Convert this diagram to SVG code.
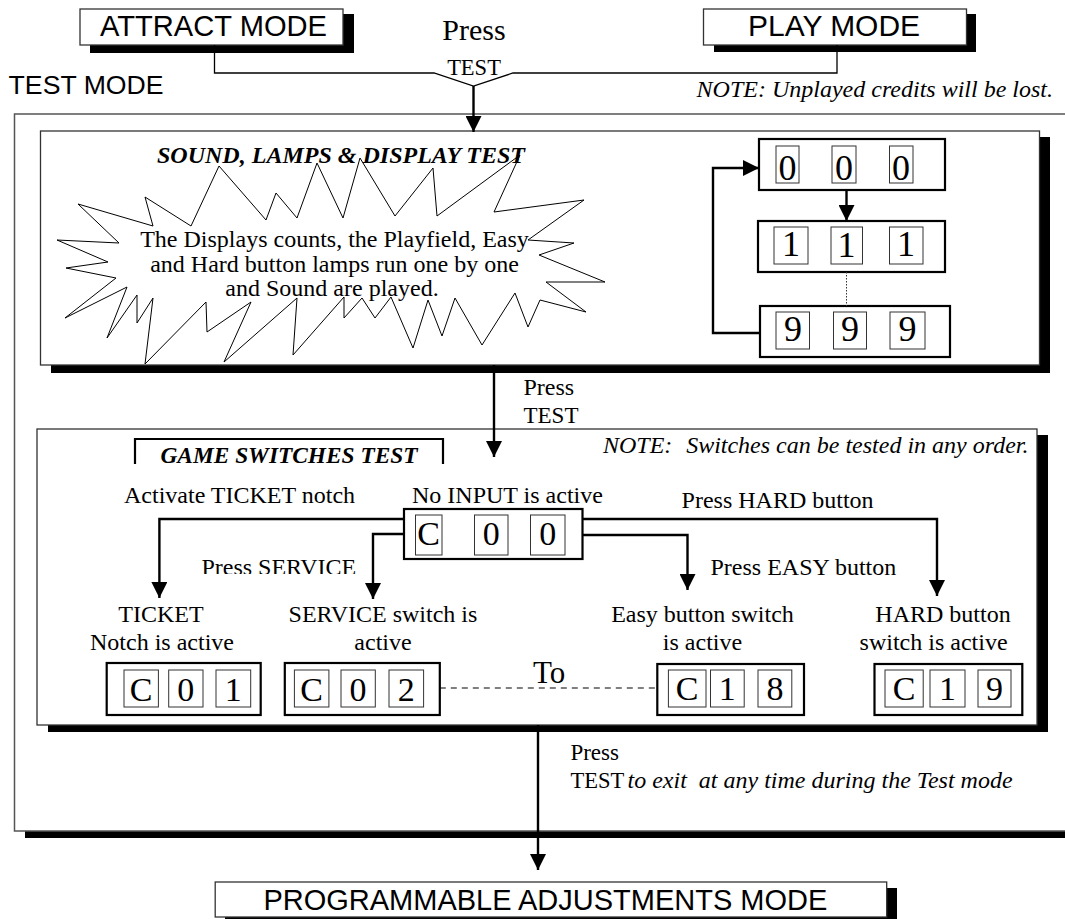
<svg xmlns="http://www.w3.org/2000/svg" width="1065" height="919" viewBox="0 0 1065 919">
<style>
.box{fill:#fff;stroke:#333;stroke-width:1.3}
.sh{fill:#000}
.cnt{fill:#fff;stroke:#000;stroke-width:2.2}
.dg{fill:#fff;stroke:#333;stroke-width:1}
.sans{font-family:"Liberation Sans",Arial,sans-serif}
.serif{font-family:"Liberation Serif","Times New Roman",serif}
.mode{font-size:29px}
.t{font-size:24px}
.it{font-style:italic}
.bi{font-weight:bold;font-style:italic}
.dig{font-family:"Liberation Serif","Times New Roman",serif;font-size:36px;text-anchor:middle}
.cd{font-family:"Liberation Serif","Times New Roman",serif;font-size:34px;text-anchor:middle}
.mid{text-anchor:middle}
.conn{fill:none;stroke:#000;stroke-width:2.4}
.thin{fill:none;stroke:#000;stroke-width:1.3}
</style>
<defs>
<marker id="ah" markerUnits="userSpaceOnUse" markerWidth="16" markerHeight="16" refX="16" refY="8" orient="auto" viewBox="0 0 16 16">
<path d="M0,0 L16,8 L0,16 Z" fill="#000"/>
</marker>
<clipPath id="svcclip"><rect x="190" y="540" width="180" height="34"/></clipPath>
</defs>
<rect width="1065" height="919" fill="#fff"/>

<g id="attract-mode">
<rect class="sh" x="90" y="14" width="264" height="39"/>
<rect class="box" x="80" y="9" width="263" height="36"/>
<text class="sans mode" x="100" y="36" textLength="227" lengthAdjust="spacingAndGlyphs">ATTRACT MODE</text>
</g>

<g id="play-mode">
<rect class="sh" x="714" y="14" width="262" height="38"/>
<rect class="box" x="703.5" y="9" width="263" height="36"/>
<text class="sans mode" x="748" y="36" textLength="172" lengthAdjust="spacingAndGlyphs">PLAY MODE</text>
</g>

<g id="labels-top">
<text class="serif" x="474" y="40" font-size="30" text-anchor="middle">Press</text>
<text class="serif" x="474" y="74.5" font-size="22.5" text-anchor="middle">TEST</text>
<text class="sans" x="8.6" y="94" font-size="25.5" textLength="155" lengthAdjust="spacingAndGlyphs">TEST MODE</text>
<text class="serif t it" x="1053" y="97" text-anchor="end">NOTE: Unplayed credits will be lost.</text>
</g>

<g id="test-mode-frame">
<rect class="sh" x="25" y="120" width="1060" height="718"/>
<rect fill="#fff" stroke="#555" stroke-width="1.5" x="14.5" y="114" width="1060" height="717"/>
</g>

<g id="sound-test">
<rect class="sh" x="51" y="137" width="999" height="236"/>
<rect class="box" x="40.5" y="131" width="999" height="234"/>
<text class="serif t bi" x="157" y="163" textLength="368" lengthAdjust="spacingAndGlyphs">SOUND, LAMPS &amp; DISPLAY TEST</text>
<polygon fill="none" stroke="#000" stroke-width="1" points="78,204 153,226 145,197 191,226 219,166 266,220 276,193 297,218 317,163 343,218 360,158 395,216 433,168 437,216 520,155 494,212 584,200 528,240 574,243 539,255 605,282 546,282 586,312 540,300 528,327 515,293 482,345 455,298 442,336 428,300 413,348 391,297 375,318 362,298 344,318 344,297 293,355 297,298 224,362 251,302 207,332 206,302 145,364 153,298 137,323 137,295 107,338 127,287 65,318 116,278 66,268 108,262 57,240 119,243"/>
<text class="serif t mid" x="334.5" y="247">The Displays counts, the Playfield, Easy</text>
<text class="serif t mid" x="334.5" y="272">and Hard button lamps run one by one</text>
<text class="serif t mid" x="332" y="296">and Sound are played.</text>
</g>

<g id="counter-000">
<rect class="cnt" x="759" y="139" width="186" height="51"/>
<rect class="dg" x="776" y="146" width="23" height="37"/>
<rect class="dg" x="832" y="146" width="24" height="37"/>
<rect class="dg" x="889.5" y="146" width="23.5" height="37"/>
<text class="dig" x="787.5" y="180">0</text>
<text class="dig" x="844" y="180">0</text>
<text class="dig" x="901" y="180">0</text>
</g>

<g id="counter-111">
<rect class="cnt" x="758" y="221" width="187" height="51"/>
<rect class="dg" x="774" y="227" width="34" height="37"/>
<rect class="dg" x="831" y="227" width="31.5" height="37"/>
<rect class="dg" x="889.5" y="227" width="33.5" height="37"/>
<text class="dig" x="791" y="256">1</text>
<text class="dig" x="846.5" y="257" font-size="30">1</text>
<text class="dig" x="906" y="256">1</text>
</g>

<g id="counter-999">
<rect class="cnt" x="760" y="306" width="190" height="51"/>
<rect class="dg" x="776" y="312" width="33.5" height="37"/>
<rect class="dg" x="833.5" y="312" width="33" height="37"/>
<rect class="dg" x="890" y="312" width="35" height="37"/>
<text class="dig" x="793" y="340.5">9</text>
<text class="dig" x="850" y="340.5">9</text>
<text class="dig" x="907.5" y="340.5">9</text>
</g>

<g id="game-switches-test">
<rect class="sh" x="48" y="435" width="1000" height="297"/>
<rect class="box" x="37" y="429" width="1000" height="296"/>
<path d="M135,464 V439 H443 V464" fill="none" stroke="#000" stroke-width="2.2"/>
<text class="serif t bi mid" x="289" y="463" textLength="257" lengthAdjust="spacingAndGlyphs">GAME SWITCHES TEST</text>
<text class="serif t it" x="603" y="453">NOTE:</text>
<text class="serif t it" x="1028.5" y="453" text-anchor="end">Switches can be tested in any order.</text>
</g>

<g id="no-input">
<text class="serif t" x="412" y="503">No INPUT is active</text>
<rect class="cnt" x="404" y="509" width="178.5" height="50"/>
<rect class="dg" x="415.5" y="515" width="26.5" height="40"/>
<rect class="dg" x="474.5" y="515" width="33.5" height="40"/>
<rect class="dg" x="530.5" y="515" width="34.5" height="40"/>
<text class="cd" x="428.7" y="545">C</text>
<text class="cd" x="491.2" y="545">0</text>
<text class="cd" x="547.7" y="545">0</text>
</g>

<g id="ticket-active">
<text class="serif t mid" x="161" y="622">TICKET</text>
<text class="serif t mid" x="162" y="650">Notch is active</text>
<rect class="cnt" x="106.7" y="663" width="154" height="52"/>
<rect class="dg" x="124" y="670" width="34.4" height="37"/>
<rect class="dg" x="168.7" y="670" width="34.3" height="37"/>
<rect class="dg" x="216" y="670" width="34.7" height="37"/>
<text class="cd" x="141.2" y="701">C</text>
<text class="cd" x="185.8" y="701">0</text>
<text class="cd" x="233.3" y="701">1</text>
</g>

<g id="service-active">
<text class="serif t mid" x="383" y="622">SERVICE switch is</text>
<text class="serif t mid" x="383" y="650">active</text>
<rect class="cnt" x="284.8" y="663" width="155" height="52"/>
<rect class="dg" x="294.4" y="670" width="34.5" height="37"/>
<rect class="dg" x="341" y="670" width="34.3" height="37"/>
<rect class="dg" x="389" y="670" width="34.6" height="37"/>
<text class="cd" x="311.6" y="701">C</text>
<text class="cd" x="358.1" y="701">0</text>
<text class="cd" x="406.3" y="701">2</text>
</g>

<g id="easy-active">
<text class="serif t mid" x="702.5" y="622">Easy button switch</text>
<text class="serif t mid" x="702.5" y="650">is active</text>
<rect class="cnt" x="657.3" y="664" width="146.7" height="51"/>
<rect class="dg" x="668.4" y="670" width="37.6" height="37"/>
<rect class="dg" x="710.5" y="670" width="33.7" height="37"/>
<rect class="dg" x="758" y="670" width="33.8" height="37"/>
<text class="cd" x="687.2" y="700">C</text>
<text class="cd" x="727.3" y="700">1</text>
<text class="cd" x="774.9" y="700">8</text>
</g>

<g id="hard-active">
<text class="serif t mid" x="943" y="622">HARD button</text>
<text class="serif t mid" x="933.6" y="650">switch is active</text>
<rect class="cnt" x="874.5" y="664" width="147.8" height="51"/>
<rect class="dg" x="885" y="670" width="38.2" height="37"/>
<rect class="dg" x="930" y="670" width="35" height="37"/>
<rect class="dg" x="978" y="670" width="33" height="37"/>
<text class="cd" x="904.1" y="700">C</text>
<text class="cd" x="947.5" y="700">1</text>
<text class="cd" x="994.5" y="700">9</text>
</g>

<g id="programmable-mode">
<rect class="sh" x="225" y="888" width="672" height="40"/>
<rect class="box" x="215.2" y="882" width="671.5" height="35"/>
<text class="sans mode" x="263.4" y="910" textLength="564" lengthAdjust="spacingAndGlyphs">PROGRAMMABLE ADJUSTMENTS MODE</text>
</g>

<g id="connectors">
<path class="thin" d="M214.5,45 V73 H434 L473.5,86 L513,73 H837 V45"/>
<path class="conn" d="M473.5,86 V132" marker-end="url(#ah)"/>
<path class="conn" d="M760,333 H713 V168 H759" marker-end="url(#ah)"/>
<path class="conn" d="M846.5,190 V221" marker-end="url(#ah)"/>
<path fill="none" stroke="#333" stroke-width="1" stroke-dasharray="1.5,1.5" d="M846.5,272 V306"/>
<path class="conn" d="M494,365 V457" marker-end="url(#ah)"/>
<text class="serif" x="523.5" y="395" font-size="24">Press</text>
<text class="serif" x="523.5" y="423" font-size="23">TEST</text>
<text class="serif t" x="124" y="503">Activate TICKET notch</text>
<text class="serif t" x="681.6" y="508">Press HARD button</text>
<path class="conn" d="M404,519 H159.4 V598" marker-end="url(#ah)"/>
<path class="conn" d="M404,534 H373 V599" marker-end="url(#ah)"/>
<path class="conn" d="M582.5,519 H937 V596" marker-end="url(#ah)"/>
<path class="conn" d="M582.5,535 H687.5 V590" marker-end="url(#ah)"/>
<text class="serif t" x="201.4" y="575" clip-path="url(#svcclip)">Press SERVICE</text>
<text class="serif t" x="710.5" y="575">Press EASY button</text>
<path fill="none" stroke="#000" stroke-width="1.2" stroke-dasharray="6,5" d="M439.8,688 H657.3"/>
<text class="serif" x="533" y="683" font-size="31">To</text>
<path class="conn" d="M538,725 V870" marker-end="url(#ah)"/>
<text class="serif" x="570.4" y="760" font-size="23">Press</text>
<text class="serif" x="570.4" y="788" font-size="22.5">TEST</text>
<text class="serif t it" x="627.5" y="788" xml:space="preserve">to exit  at any time during the Test mode</text>
</g>
</svg>
